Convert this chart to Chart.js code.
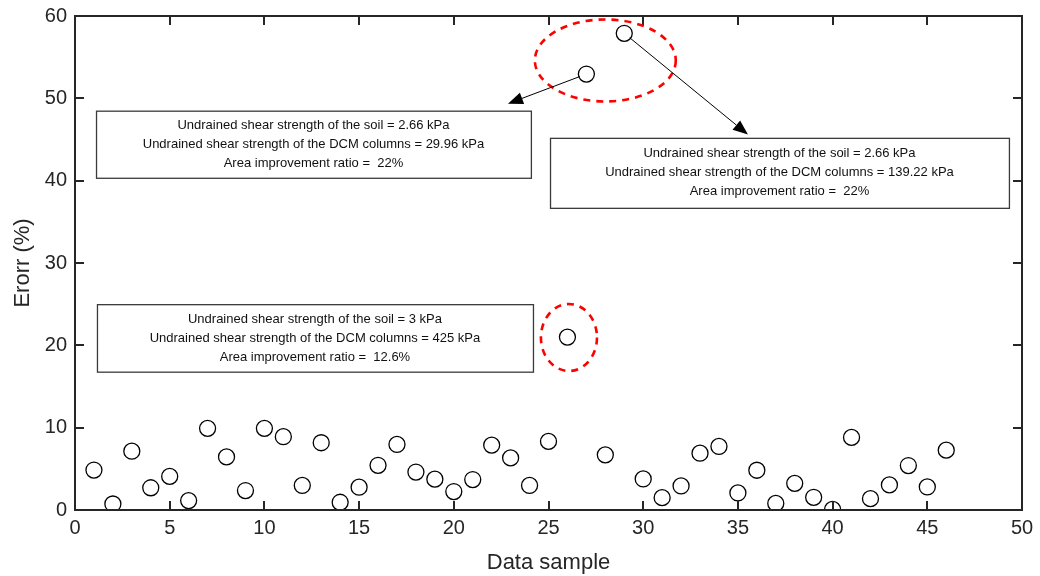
<!DOCTYPE html>
<html>
<head>
<meta charset="utf-8">
<script src="https://cdn.jsdelivr.net/npm/chart.js@4"></script>
<style>
  html, body { margin: 0; padding: 0; background: #fff; }
  #wrap { width: 1040px; height: 576px; }
</style>
</head>
<body>
<div id="wrap"><canvas id="myCanvas" width="1040" height="576"></canvas></div>
<script>
'use strict';

// sample number and error (%)
const samples = [];
for (let i = 1; i <= 46; i++) samples.push(i);
const errors = [
  4.85, 0.73, 7.14, 2.7, 4.08, 1.14, 9.92, 6.45, 2.36, 9.92,
  8.9, 2.98, 8.17, 0.94, 2.77, 5.43, 7.96, 4.61, 3.75, 2.24,
  3.7, 7.88, 6.33, 2.98, 8.33, 21.0, 52.95, 6.7, 57.9, 3.77,
  1.5, 2.92, 6.9, 7.72, 2.07, 4.83, 0.8, 3.24, 1.54, 0.07,
  8.82, 1.38, 3.05, 5.4, 2.8, 7.27
];
const xTicks = [0, 5, 10, 15, 20, 25, 30, 35, 40, 45, 50];
const yTicks = [0, 10, 20, 30, 40, 50, 60];

const note1 = ['Undrained shear strength of the soil = 2.66 kPa',
  'Undrained shear strength of the DCM columns = 29.96 kPa',
  'Area improvement ratio =  22%'];
const note2 = ['Undrained shear strength of the soil = 2.66 kPa',
  'Undrained shear strength of the DCM columns = 139.22 kPa',
  'Area improvement ratio =  22%'];
const note3 = ['Undrained shear strength of the soil = 3 kPa',
  'Undrained shear strength of the DCM columns = 425 kPa',
  'Area improvement ratio =  12.6%'];

const axisColor = '#262626';
const tickFont = { family: 'Liberation Sans, Arial, sans-serif', size: 20 };

// boxes, ellipses and arrows in data units
const boxes = [
  { x1: 1.11, x2: 24.07, y1: 48.5, y2: 40.35, lines: note1 },
  { x1: 25.08, x2: 49.31, y1: 45.2, y2: 36.7, lines: note2 },
  { x1: 1.16, x2: 24.18, y1: 25.0, y2: 16.8, lines: note3 }
];
const ellipses = [
  { cx: 28.0, cy: 54.6, rx: 3.72, ry: 4.98 },
  { cx: 26.08, cy: 20.95, rx: 1.48, ry: 4.07 }
];
const arrows = [
  { from: 26, tx: 22.86, ty: 49.35 },
  { from: 28, tx: 35.53, ty: 45.6 }
];

const framePlugin = {
  id: 'frame',
  afterDatasetsDraw(chart) {
    const ctx = chart.ctx;
    const a = chart.chartArea;
    const xs = chart.scales.x;
    const ys = chart.scales.y;
    ctx.save();
    ctx.strokeStyle = axisColor;
    ctx.lineWidth = 2;
    ctx.strokeRect(a.left, a.top, a.right - a.left, a.bottom - a.top);
    ctx.beginPath();
    xTicks.forEach(function (v) {
      const px = Math.round(xs.getPixelForValue(v));
      ctx.moveTo(px, a.bottom); ctx.lineTo(px, a.bottom - 9);
      ctx.moveTo(px, a.top); ctx.lineTo(px, a.top + 9);
    });
    yTicks.forEach(function (v) {
      const py = Math.round(ys.getPixelForValue(v));
      ctx.moveTo(a.left, py); ctx.lineTo(a.left + 9, py);
      ctx.moveTo(a.right, py); ctx.lineTo(a.right - 9, py);
    });
    ctx.stroke();

    // annotation boxes
    ctx.font = '13px Liberation Sans, Arial, sans-serif';
    ctx.textAlign = 'center';
    ctx.textBaseline = 'middle';
    boxes.forEach(function (b) {
      const l = xs.getPixelForValue(b.x1), r = xs.getPixelForValue(b.x2);
      const t = ys.getPixelForValue(b.y1), bt = ys.getPixelForValue(b.y2);
      ctx.fillStyle = '#fff';
      ctx.fillRect(l, t, r - l, bt - t);
      ctx.strokeStyle = '#3a3a3a';
      ctx.lineWidth = 1.3;
      ctx.strokeRect(l + 0.5, t + 0.5, r - l, bt - t);
      ctx.fillStyle = '#111';
      const mid = (t + bt) / 2;
      b.lines.forEach(function (s, i) {
        ctx.fillText(s, (l + r) / 2, mid + (i - 1) * 19);
      });
    });

    // red dashed ellipses
    ctx.strokeStyle = '#ff0000';
    ctx.lineWidth = 2.6;
    ctx.setLineDash([7, 6]);
    ellipses.forEach(function (e) {
      const cx = xs.getPixelForValue(e.cx), cy = ys.getPixelForValue(e.cy);
      const rx = xs.getPixelForValue(e.cx + e.rx) - cx;
      const ry = cy - ys.getPixelForValue(e.cy + e.ry);
      ctx.beginPath();
      ctx.ellipse(cx, cy, rx, ry, 0, 0, Math.PI * 2);
      ctx.stroke();
    });
    ctx.setLineDash([]);

    // arrows from the outlying points
    ctx.strokeStyle = '#000';
    ctx.fillStyle = '#000';
    ctx.lineWidth = 1;
    arrows.forEach(function (ar) {
      const sx = xs.getPixelForValue(samples[ar.from]);
      const sy = ys.getPixelForValue(errors[ar.from]);
      const tx = xs.getPixelForValue(ar.tx), ty = ys.getPixelForValue(ar.ty);
      const ang = Math.atan2(ty - sy, tx - sx);
      const x0 = sx + Math.cos(ang) * 7, y0 = sy + Math.sin(ang) * 7;
      const hl = 15, hw = 6;
      const bx = tx - Math.cos(ang) * hl, by = ty - Math.sin(ang) * hl;
      ctx.beginPath();
      ctx.moveTo(x0, y0); ctx.lineTo(bx, by);
      ctx.stroke();
      ctx.beginPath();
      ctx.moveTo(tx, ty);
      ctx.lineTo(bx - Math.sin(ang) * hw, by + Math.cos(ang) * hw);
      ctx.lineTo(bx + Math.sin(ang) * hw, by - Math.cos(ang) * hw);
      ctx.closePath();
      ctx.fill();
    });
    ctx.restore();
  }
};

const points = samples.map(function (s, i) { return { x: s, y: errors[i] }; });

const config = {
  type: 'scatter',
  data: {
    datasets: [{
      label: 'Erorr',
      data: points,
      pointRadius: 8,
      pointBorderWidth: 1.3,
      pointBorderColor: '#000',
      pointBackgroundColor: 'rgba(0,0,0,0)',
      pointHoverRadius: 8
    }]
  },
  options: {
    responsive: false,
    animation: false,
    layout: { padding: { top: 16, right: 18, left: 10, bottom: 0 } },
    plugins: {
      legend: { display: false },
      tooltip: { enabled: false }
    },
    scales: {
      x: {
        type: 'linear',
        min: 0,
        max: 50,
        afterBuildTicks(scale) { scale.ticks = xTicks.map(function (v) { return { value: v }; }); },
        afterFit(scale) {
          scale.height = 66;
          scale.paddingLeft = 0;
          scale.paddingRight = 0;
        },
        grid: { display: false, drawTicks: false },
        border: { display: false },
        ticks: { color: axisColor, font: tickFont, padding: 6, maxRotation: 0 },
        title: {
          display: true, text: 'Data sample', color: axisColor,
          font: { family: 'Liberation Sans, Arial, sans-serif', size: 22 },
          padding: { top: 0, bottom: 0 }
        }
      },
      y: {
        min: 0,
        max: 60,
        afterBuildTicks(scale) { scale.ticks = yTicks.map(function (v) { return { value: v }; }); },
        afterFit(scale) {
          scale.width = 65;
          scale.paddingTop = 0;
          scale.paddingBottom = 0;
        },
        grid: { display: false, drawTicks: false },
        border: { display: false },
        ticks: { color: axisColor, font: tickFont, padding: 8 },
        title: {
          display: true, text: 'Erorr (%)', color: axisColor,
          font: { family: 'Liberation Sans, Arial, sans-serif', size: 22 },
          padding: { top: 0, bottom: 0 }
        }
      }
    }
  },
  plugins: [framePlugin]
};

const myChart = new Chart(document.getElementById('myCanvas'), config);
</script>
</body>
</html>
